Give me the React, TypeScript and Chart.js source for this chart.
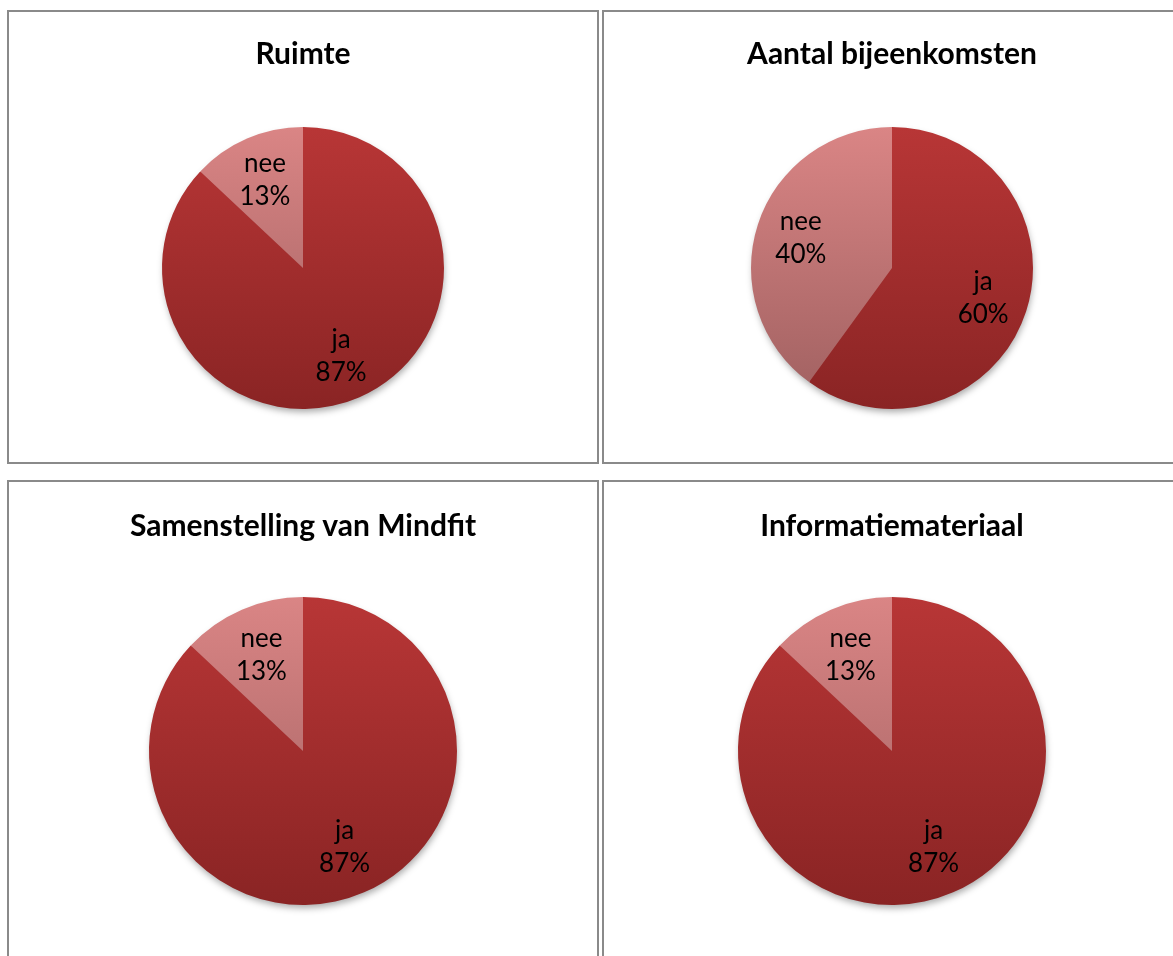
import React, { useEffect, useRef } from "react";
import { Chart, registerables } from "chart.js";

Chart.register(...registerables);

// ---- Data ----
const answerLabels = ["ja", "nee"];
const ruimteValues = [87, 13];
const bijeenkomstenValues = [60, 40];
const samenstellingValues = [87, 13];
const informatieValues = [87, 13];
const chartTitles = [
  "Ruimte",
  "Aantal bijeenkomsten",
  "Samenstelling van Mindfit",
  "Informatiemateriaal",
];

// ---- Styles ----
const sliceGradients = [
  ["#b83636", "#8a2424"], // ja
  ["#da8585", "#9f6060"], // nee
];
const FONT = "Lato, 'Open Sans', sans-serif";

const shadowPlugin = {
  id: "pieShadow",
  beforeDatasetsDraw(chart: any) {
    const meta = chart.getDatasetMeta(0);
    const arc = meta.data[0];
    if (!arc) return;
    const { x, y, outerRadius } = arc.getProps(["x", "y", "outerRadius"], true);
    const ctx = chart.ctx;
    ctx.save();
    ctx.shadowColor = "rgba(0,0,0,0.35)";
    ctx.shadowBlur = 7;
    ctx.shadowOffsetX = 1;
    ctx.shadowOffsetY = 4;
    ctx.beginPath();
    ctx.arc(x, y, outerRadius - 1, 0, Math.PI * 2);
    ctx.fillStyle = "#9a2c2c";
    ctx.fill();
    ctx.restore();
  },
};

const labelPlugin = {
  id: "sliceLabels",
  afterDatasetsDraw(chart: any) {
    const meta = chart.getDatasetMeta(0);
    const ds = chart.data.datasets[0];
    const ctx = chart.ctx;
    ctx.save();
    ctx.font = `400 26px ${FONT}`;
    ctx.fillStyle = "#000000";
    ctx.textAlign = "center";
    ctx.textBaseline = "middle";
    meta.data.forEach((arc: any, i: number) => {
      const { x, y, startAngle, endAngle, outerRadius } = arc.getProps(
        ["x", "y", "startAngle", "endAngle", "outerRadius"],
        true
      );
      const mid = (startAngle + endAngle) / 2;
      const d = outerRadius * 0.68;
      const px = x + Math.cos(mid) * d;
      const py = y + Math.sin(mid) * d;
      ctx.fillText(String(chart.data.labels[i]), px, py - 16.5);
      ctx.fillText(`${ds.data[i]}%`, px, py + 16.5);
    });
    ctx.restore();
  },
};

type PieProps = {
  title: string;
  values: number[];
  width: number;
  height: number;
  radius: number;
  titleTop: number;
  titleBottom: number;
  padBottom: number;
};

function PieChart({ title, values, width, height, radius, titleTop, titleBottom, padBottom }: PieProps) {
  const ref = useRef<HTMLCanvasElement | null>(null);
  useEffect(() => {
    if (!ref.current) return;
    const chart = new Chart(ref.current, {
      type: "pie",
      data: {
        labels: answerLabels,
        datasets: [
          {
            data: values,
            radius,
            borderWidth: 0,
            hoverOffset: 0,
            offset: 0,
            backgroundColor: (c: any) => {
              const ch = c.chart;
              const area = ch.chartArea;
              const cols = sliceGradients[c.dataIndex % 2];
              if (!area) return cols[0];
              const cy = (area.top + area.bottom) / 2;
              const g = ch.ctx.createLinearGradient(0, cy - radius, 0, cy + radius);
              g.addColorStop(0, cols[0]);
              g.addColorStop(1, cols[1]);
              return g;
            },
          } as any,
        ],
      },
      options: {
        animation: false,
        responsive: false,
        layout: { padding: { top: 0, left: 0, right: 0, bottom: padBottom } },
        plugins: {
          legend: { display: false },
          tooltip: { enabled: false },
          title: {
            display: true,
            text: title,
            color: "#000000",
            font: { family: FONT, size: 30, weight: "bold", lineHeight: 1.2 },
            padding: { top: titleTop, bottom: titleBottom },
          },
        },
      },
      plugins: [shadowPlugin, labelPlugin],
    });
    return () => chart.destroy();
  }, [title, values, width, height, radius, titleTop, titleBottom, padBottom]);
  return <canvas ref={ref} width={width} height={height} style={{ display: "block", width, height }} />;
}

const panelBase: React.CSSProperties = {
  position: "absolute",
  border: "2px solid #8a8a8a",
  boxSizing: "content-box",
  background: "#ffffff",
  overflow: "hidden",
};

export default function App() {
  return (
    <div
      style={{
        position: "fixed",
        left: 0,
        top: 0,
        width: 1173,
        height: 956,
        overflow: "hidden",
        background: "#ffffff",
      }}
    >
      <div style={{ ...panelBase, left: 7, top: 10, width: 588, height: 450 }}>
        <PieChart title={chartTitles[0]} values={ruimteValues} width={588} height={450} radius={141} titleTop={24} titleBottom={22} padBottom={20} />
      </div>
      <div style={{ ...panelBase, left: 602, top: 10, width: 576, height: 450 }}>
        <PieChart title={chartTitles[1]} values={bijeenkomstenValues} width={576} height={450} radius={141} titleTop={24} titleBottom={22} padBottom={20} />
      </div>
      <div style={{ ...panelBase, left: 7, top: 480, width: 588, height: 480 }}>
        <PieChart title={chartTitles[2]} values={samenstellingValues} width={588} height={474} radius={154} titleTop={26} titleBottom={22} padBottom={20} />
      </div>
      <div style={{ ...panelBase, left: 602, top: 480, width: 576, height: 480 }}>
        <PieChart title={chartTitles[3]} values={informatieValues} width={576} height={474} radius={154} titleTop={26} titleBottom={22} padBottom={20} />
      </div>
    </div>
  );
}
